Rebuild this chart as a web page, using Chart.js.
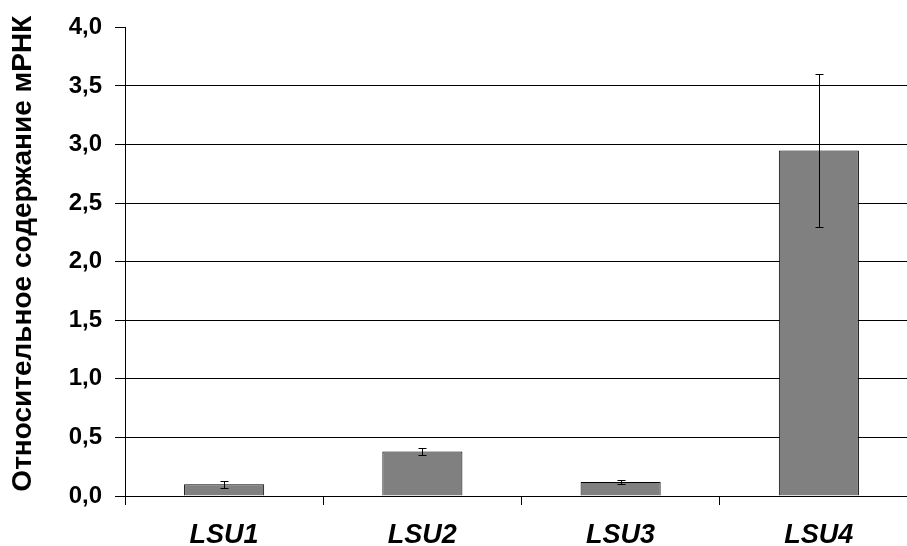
<!DOCTYPE html>
<html>
<head>
<meta charset="utf-8">
<script src="https://cdn.jsdelivr.net/npm/chart.js@4"></script>
<style>
  html, body { margin: 0; padding: 0; background: #fff; overflow: hidden; }
  #wrap { width: 921px; height: 546px; }
</style>
</head>
<body>
<div id="wrap"><canvas id="chart"></canvas></div>
<script>
const categories = ['LSU1', 'LSU2', 'LSU3', 'LSU4'];
const values = [0.10, 0.38, 0.12, 2.95];
const errors = [0.03, 0.03, 0.02, 0.65];
const yTickLabels = ['0,0', '0,5', '1,0', '1,5', '2,0', '2,5', '3,0', '3,5', '4,0'];
const yTitle = 'Относительное содержание мРНК';

const errorBars = {
  id: 'errorBars',
  afterDatasetsDraw(chart) {
    const { ctx, scales: { y } } = chart;
    const meta = chart.getDatasetMeta(0);
    ctx.save();
    ctx.strokeStyle = '#000';
    ctx.lineWidth = 1;
    meta.data.forEach((bar, i) => {
      const x = Math.round(bar.x) + 0.5;
      const top = Math.round(y.getPixelForValue(values[i] + errors[i])) + 0.5;
      const bot = Math.round(y.getPixelForValue(values[i] - errors[i])) + 0.5;
      ctx.beginPath();
      ctx.moveTo(x, top); ctx.lineTo(x, bot);
      ctx.moveTo(x - 4, top); ctx.lineTo(x + 4, top);
      ctx.moveTo(x - 4, bot); ctx.lineTo(x + 4, bot);
      ctx.stroke();
    });
    ctx.restore();
  }
};

// y-axis title, drawn a bit above the plot centre like in the original
const yAxisTitle = {
  id: 'yAxisTitle',
  afterDraw(chart) {
    const { ctx, chartArea } = chart;
    ctx.save();
    ctx.translate(23, (chartArea.top + chartArea.bottom) / 2 - 8);
    ctx.rotate(-Math.PI / 2);
    ctx.font = 'bold 28px "Liberation Sans"';
    ctx.fillStyle = '#000';
    ctx.textAlign = 'center';
    ctx.textBaseline = 'middle';
    ctx.fillText(yTitle, 0, 0);
    ctx.restore();
  }
};

new Chart(document.getElementById('chart'), {
  type: 'bar',
  data: {
    labels: categories,
    datasets: [{
      data: values,
      backgroundColor: '#808080',
      borderColor: '#000',
      borderWidth: 1,
      categoryPercentage: 1,
      barPercentage: 0.404
    }]
  },
  options: {
    responsive: true,
    maintainAspectRatio: false,
    animation: false,
    layout: { padding: { top: 26, right: 3, left: 0, bottom: 0 } },
    plugins: { legend: { display: false }, tooltip: { enabled: false } },
    scales: {
      x: {
        afterFit: s => { s.height = 50; },
        grid: { offset: true, drawOnChartArea: false, tickLength: 9, tickColor: '#000' },
        border: { color: '#000', width: 1 },
        ticks: {
          color: '#000',
          padding: 14,
          font: { family: 'Liberation Sans', size: 27, weight: 'bold', style: 'italic' }
        }
      },
      y: {
        min: 0,
        max: 4,
        afterFit: s => { s.width = 125; },
        ticks: {
          stepSize: 0.5,
          color: '#000',
          padding: 13,
          font: { family: 'Liberation Sans', size: 24, weight: 'bold' },
          callback: (v, i) => yTickLabels[i]
        },
        grid: {
          color: c => (c.tick.value > 0 && c.tick.value < 4) ? '#000' : 'rgba(0,0,0,0)',
          tickColor: '#000',
          tickLength: 10
        },
        border: { color: '#000', width: 1 }
      }
    }
  },
  plugins: [errorBars, yAxisTitle]
});
</script>
</body>
</html>
